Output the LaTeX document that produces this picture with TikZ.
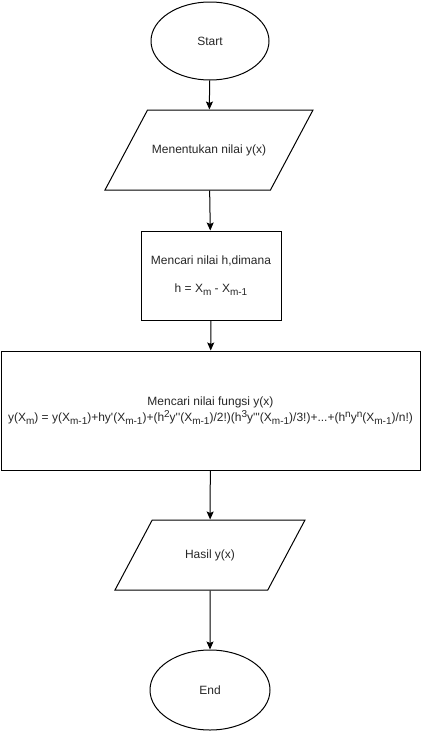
\documentclass[tikz,border=0pt]{standalone}
\usepackage{fontspec}
\setmainfont{Liberation Sans}
\usetikzlibrary{shapes.geometric,arrows.meta}
\newcommand{\lo}[1]{\raisebox{-3pt}{\fontsize{10}{10}\selectfont #1}}
\newcommand{\hi}[1]{\raisebox{4.5pt}{\fontsize{10}{10}\selectfont #1}}
\newcommand{\prm}{\textquotesingle}
\begin{document}
\begin{tikzpicture}[x=1pt,y=-1pt,font=\fontsize{12}{14}\selectfont,text=black!85,line width=1pt,
  terminal/.style={draw,ellipse,minimum width=118pt,minimum height=78pt},
  io/.style={draw,trapezium,trapezium left angle=62,trapezium right angle=118,
    trapezium stretches body,text height=9pt,text depth=3pt,inner xsep=0pt,inner ysep=#1},
  proc/.style={draw,rectangle,align=center,inner sep=0pt},
  flow/.style={-{Stealth[length=8pt,width=7pt,inset=1.5pt]}}]
\useasboundingbox (0,0) rectangle (421,731);
\node[terminal] (start) at (210,41) {Start};
\node[io=34pt,minimum width=208pt] (input) at (209,150) {Menentukan nilai y(x)};
\node[proc,minimum width=140pt,minimum height=89pt] (step) at (211,275.5)
  {Mencari nilai h,dimana\\[14pt] h = X\lo{m} - X\lo{m-1}};
\node[proc,minimum width=419pt,minimum height=119pt] (taylor) at (210.5,410.5)
  {Mencari nilai fungsi y(x)\\[2.5pt]
   y(X\lo{m}) = y(X\lo{m-1})+hy\prm(X\lo{m-1})+(h\hi{2}y\prm\prm(X\lo{m-1})/2!)(h\hi{3}y\prm\prm\prm(X\lo{m-1})/3!)+...+(h\hi{n}y\hi{n}(X\lo{m-1})/n!)};
\node[io=29pt,minimum width=190pt] (output) at (210,555) {Hasil y(x)};
\node[terminal,minimum width=120pt,minimum height=80pt] (finish) at (210,690) {End};
% arrows
\draw[flow] (start) -- (input);
\draw[flow] (input) -- (step);
\draw[flow] (step) -- (taylor);
\draw[flow] (taylor) -- (output);
\draw[flow] (output) -- (finish);
\end{tikzpicture}
\end{document}
